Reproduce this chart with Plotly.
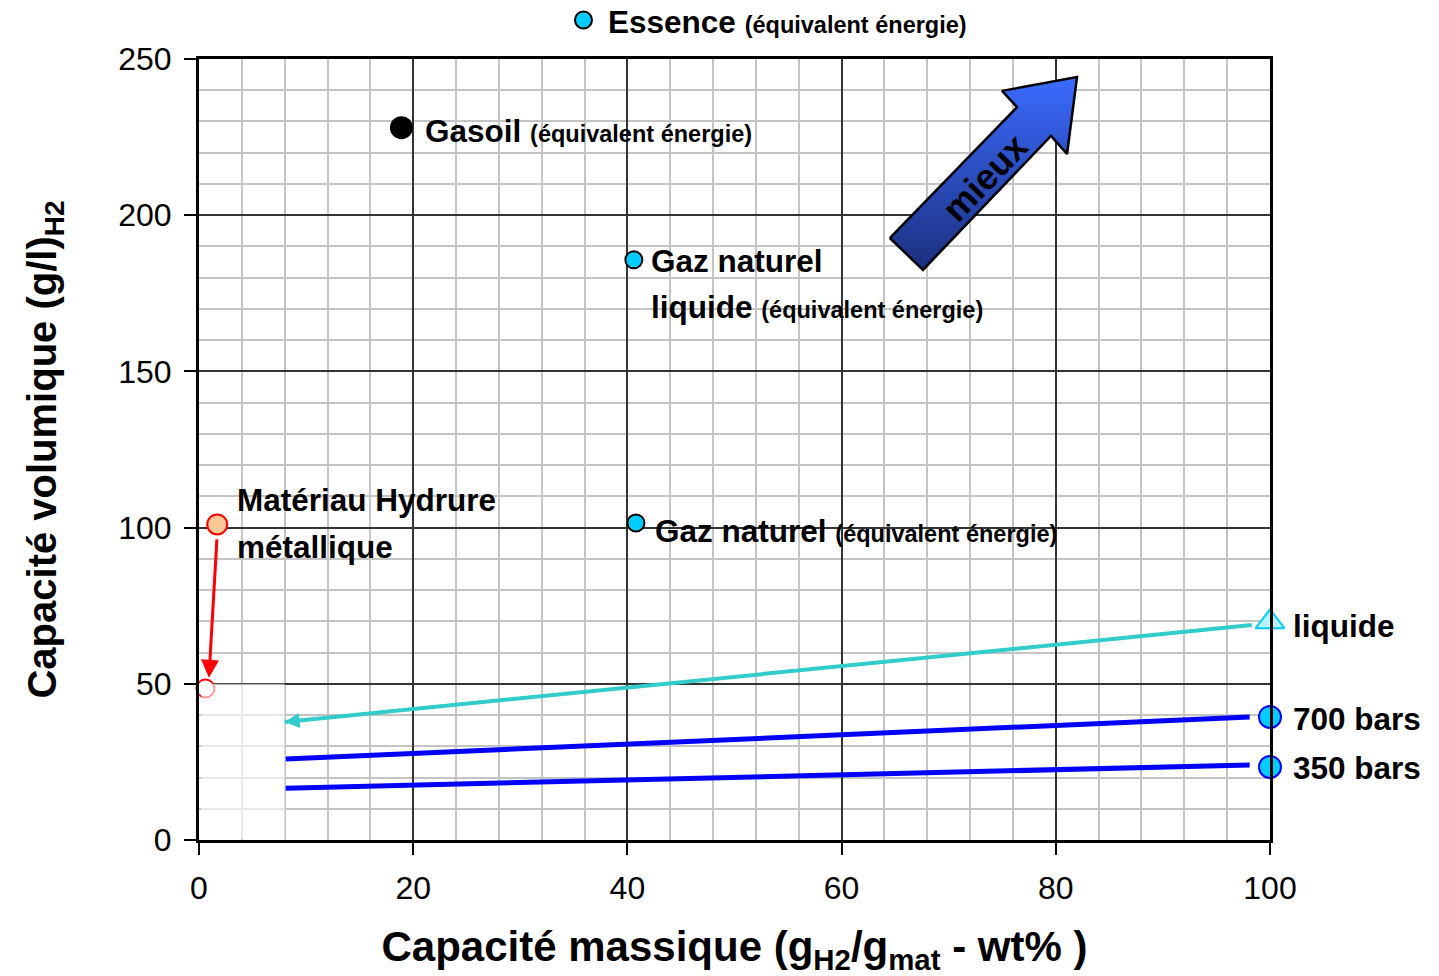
import plotly.graph_objects as go

# ---- data ----
point_names = ["Gasoil", "Gaz naturel liquide", "Gaz naturel", "Matériau Hydrure métallique"]
point_x = [18.9, 40.6, 40.8, 1.7]
point_y = [228.0, 185.7, 101.5, 101.0]

essence_x = [35.9]
essence_y = [262.5]

tank_names = ["liquide", "700 bars", "350 bars"]
tank_x = [100, 100, 100]
tank_y = [69.8, 39.4, 23.4]

liquid_line_x = [98.3, 8.0]
liquid_line_y = [68.8, 37.8]
bar700_line_x = [8.1, 98.1]
bar700_line_y = [25.9, 39.4]
bar350_line_x = [8.1, 98.1]
bar350_line_y = [16.6, 24.0]

hydride_arrow_from = (1.68, 96.7)
hydride_arrow_to = (0.93, 51.9)
hydride_target = (0.6, 48.5)

mieux_x = [64.5, 67.6, 79.55, 81.05, 81.98, 74.98, 76.38, 64.5]
mieux_y = [192.7, 182.5, 225.4, 219.6, 244.2, 239.8, 234.6, 192.7]

x_ticks = [0, 20, 40, 60, 80, 100]
y_ticks = [0, 50, 100, 150, 200, 250]

FONT = "Liberation Sans, Arial, sans-serif"
CYAN = "#00ccff"

# layout geometry (pixels)
W, H = 1439, 976
L, R_EDGE, TOP, BOT = 199, 1270, 59, 840
XD = (R_EDGE - L) / (W - L)
YD = (BOT - TOP) / BOT
X2MAX = 100 / XD
Y2MAX = 250 / YD

fig = go.Figure()

# big "mieux" arrow
fig.add_trace(go.Scatter(
    x=mieux_x, y=mieux_y, mode="lines", fill="toself",
    line=dict(color="black", width=2.5),
    fillgradient=dict(type="vertical", colorscale=[[0, "#1c2f7e"], [1, "#3a6cff"]]),
    hoverinfo="skip", showlegend=False))

# lines
fig.add_trace(go.Scatter(x=liquid_line_x, y=liquid_line_y, mode="lines",
                         line=dict(color="#33cccc", width=4), showlegend=False))
fig.add_trace(go.Scatter(x=bar700_line_x, y=bar700_line_y, mode="lines",
                         line=dict(color="#0000ff", width=5), showlegend=False))
fig.add_trace(go.Scatter(x=bar350_line_x, y=bar350_line_y, mode="lines",
                         line=dict(color="#0000ff", width=5), showlegend=False))

# hydride target (mostly hidden)
fig.add_trace(go.Scatter(x=[hydride_target[0]], y=[hydride_target[1]], mode="markers",
                         marker=dict(size=18, color="white", opacity=1, line=dict(color="red", width=2)),
                         cliponaxis=False, showlegend=False))

# points
point_fill = ["black", CYAN, CYAN, "#fbc898"]
point_line = ["black", "black", "black", "red"]
point_size = [21, 17, 17, 20]
fig.add_trace(go.Scatter(x=point_x, y=point_y, mode="markers", text=point_names,
                         marker=dict(size=point_size, color=point_fill, opacity=1,
                                     line=dict(color=point_line, width=2)),
                         cliponaxis=False, showlegend=False))

# tank markers
fig.add_trace(go.Scatter(x=tank_x[:1], y=tank_y[:1], mode="markers",
                         marker=dict(symbol="triangle-up", size=25, color="#b8f4ff", opacity=1,
                                     line=dict(color=CYAN, width=2)),
                         cliponaxis=False, showlegend=False))
fig.add_trace(go.Scatter(x=tank_x[1:], y=tank_y[1:], mode="markers",
                         marker=dict(size=22, color=CYAN, opacity=1, line=dict(color="#0000ff", width=2)),
                         cliponaxis=False, showlegend=False))

# Essence marker (above the plot area) on an invisible full-page overlay axis pair
fig.add_trace(go.Scatter(x=essence_x, y=essence_y, mode="markers", xaxis="x2", yaxis="y2",
                         marker=dict(size=17, color=CYAN, opacity=1, line=dict(color="black", width=2)),
                         cliponaxis=False, showlegend=False))

BIG = 31.5
SMALL = 23.5

def lab(x, y, big, small=None, xref="x", yref="y"):
    t = "<b>" + big + "</b>"
    if small:
        t += " <b><span style='font-size:%.1fpx'>%s</span></b>" % (SMALL, small)
    fig.add_annotation(x=x, y=y, xref=xref, yref=yref, text=t, showarrow=False,
                       xanchor="left", yanchor="middle",
                       font=dict(family=FONT, size=BIG, color="black"))

lab(38.0, 261.8, "Essence", "(équivalent énergie)", xref="x2", yref="y2")
lab(20.9, 227.0, "Gasoil", "(équivalent énergie)")
lab(42.0, 185.3, "Gaz naturel")
lab(42.0, 170.6, "liquide", "(équivalent énergie)")
lab(42.4, 98.9, "Gaz naturel", "(équivalent énergie)")
lab(3.4, 108.8, "Matériau Hydrure")
lab(3.4, 93.8, "métallique")
lab(102.0, 68.5, tank_names[0], xref="x2", yref="y2")
lab(102.0, 38.7, tank_names[1], xref="x2", yref="y2")
lab(102.0, 23.0, tank_names[2], xref="x2", yref="y2")

fig.add_annotation(x=73.4, y=212, xref="x", yref="y", text="<b>mieux</b>", showarrow=False,
                   textangle=-46, font=dict(family=FONT, size=36, color="black"))

# arrows
fig.add_annotation(x=hydride_arrow_to[0], y=hydride_arrow_to[1],
                   ax=hydride_arrow_from[0], ay=hydride_arrow_from[1],
                   xref="x", yref="y", axref="x", ayref="y", text="",
                   showarrow=True, arrowhead=2, arrowsize=1.2, arrowwidth=3, arrowcolor="red")
fig.add_annotation(x=liquid_line_x[1], y=liquid_line_y[1],
                   ax=liquid_line_x[1] + 3, ay=liquid_line_y[1] + 1.03,
                   xref="x", yref="y", axref="x", ayref="y", text="",
                   showarrow=True, arrowhead=2, arrowsize=1.0, arrowwidth=3, arrowcolor="#33cccc")

# faded lower-left region
fig.add_shape(type="rect", x0=0.2, x1=8, y0=0.5, y1=50, xref="x", yref="y",
              fillcolor="white", opacity=0.6, line=dict(width=0), layer="above")

fig.update_layout(
    xaxis=dict(domain=[0, XD], range=[0, 100], tickvals=x_ticks, ticktext=[str(v) for v in x_ticks],
               showgrid=True, gridcolor="#333333", gridwidth=2,
               minor=dict(dtick=4, showgrid=True, gridcolor="#c4c4c4", gridwidth=2),
               showline=True, linecolor="black", linewidth=3, mirror=True,
               ticks="outside", ticklen=12, tickwidth=2, tickcolor="black",
               ticklabelstandoff=6,
               tickfont=dict(family=FONT, size=32, color="black"),
               zeroline=False, automargin=False, anchor="y",
               title=dict(text="<b>Capacité massique (g<sub>H2</sub>/g<sub>mat</sub> - wt% )</b>",
                          font=dict(family=FONT, size=42, color="black"), standoff=30)),
    yaxis=dict(domain=[0, YD], range=[0, 250], tickvals=y_ticks, ticktext=[str(v) for v in y_ticks],
               showgrid=True, gridcolor="#333333", gridwidth=2,
               minor=dict(dtick=10, showgrid=True, gridcolor="#c4c4c4", gridwidth=2),
               showline=True, linecolor="black", linewidth=3, mirror=True,
               ticks="outside", ticklen=12, tickwidth=2, tickcolor="black",
               ticklabelstandoff=6,
               tickfont=dict(family=FONT, size=32, color="black"),
               zeroline=False, automargin=False, anchor="x",
               title=dict(text="<b>Capacité volumique (g/l)<sub>H2</sub></b>",
                          font=dict(family=FONT, size=40, color="black"), standoff=50)),
    xaxis2=dict(domain=[0, 1], range=[0, X2MAX], visible=False, anchor="y2", fixedrange=True),
    yaxis2=dict(domain=[0, 1], range=[0, Y2MAX], visible=False, anchor="x2", fixedrange=True),
    width=W, height=H, margin=dict(l=L, r=0, t=0, b=H - BOT),
    paper_bgcolor="white", plot_bgcolor="rgba(0,0,0,0)",
    font=dict(family=FONT, color="black"), showlegend=False)

fig.write_html("out.html")
